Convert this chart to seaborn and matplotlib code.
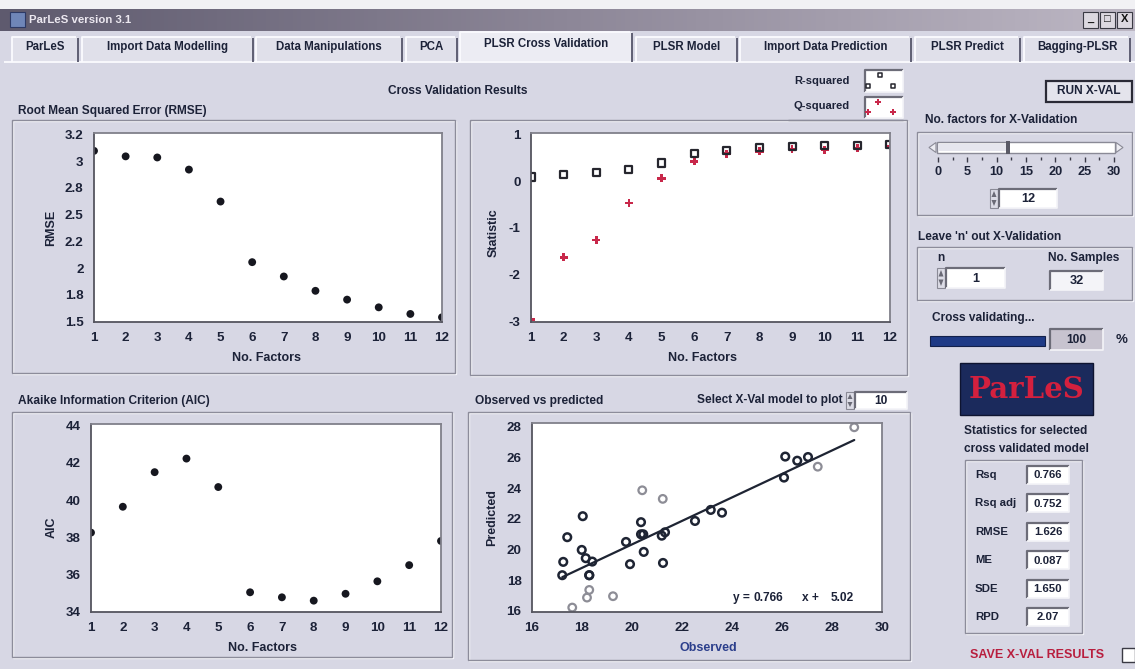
import numpy as np
import matplotlib
matplotlib.use("Agg")
import matplotlib.pyplot as plt
from matplotlib.patches import Rectangle, Polygon
from matplotlib.ticker import FixedLocator, FixedFormatter, MultipleLocator
import pandas as pd
import seaborn as sns

# ---------------- data ----------------
factors = list(range(1, 13))
rmse = [3.05, 3.00, 2.99, 2.88, 2.59, 2.04, 1.91, 1.78, 1.70, 1.63, 1.57, 1.54]
r_squared = [0.09, 0.15, 0.18, 0.26, 0.39, 0.59, 0.65, 0.72, 0.74, 0.76, 0.76, 0.79]
q_squared = [-2.96, -1.63, -1.26, -0.47, 0.06, 0.43, 0.59, 0.64, 0.69, 0.67, 0.71, 0.75]
aic = [38.25, 39.64, 41.50, 42.23, 40.70, 35.04, 34.77, 34.59, 34.96, 35.63, 36.50, 37.80]
rmse_tick_labels = ["1.5", "1.8", "2", "2.2", "2.5", "2.8", "3", "3.2"]

observed = [17.21, 17.25, 17.41, 18.03, 17.99, 18.15, 18.41, 18.29, 19.76, 19.92,
            20.36, 20.36, 20.45, 20.47, 21.19, 21.32, 21.24, 22.52, 23.15, 23.60,
            26.13, 26.08, 26.61, 27.04, 18.29]
predicted = [18.33, 19.20, 20.81, 22.18, 19.98, 19.44, 19.22, 18.33, 20.50, 19.05,
             21.79, 21.00, 21.00, 19.85, 20.91, 21.13, 19.13, 21.87, 22.59, 22.41,
             26.07, 24.70, 25.80, 26.04, 18.33]
observed_faint = [20.41, 21.23, 18.29, 18.20, 19.24, 17.61, 27.43, 28.89]
predicted_faint = [23.87, 23.31, 17.37, 16.87, 16.96, 16.22, 25.41, 27.98]
slope = 0.766
intercept = 5.02

tab_names = ["ParLeS", "Import Data Modelling", "Data Manipulations", "PCA",
             "PLSR Cross Validation", "PLSR Model", "Import Data Prediction",
             "PLSR Predict", "Bagging-PLSR"]
stat_names = ["Rsq", "Rsq adj", "RMSE", "ME", "SDE", "RPD"]
stat_values = ["0.766", "0.752", "1.626", "0.087", "1.650", "2.07"]
slider_labels = ["0", "5", "10", "15", "20", "25", "30"]
n_factors = 12
leave_n = 1
n_samples = 32
progress = 100
model_to_plot = 10

# ---------------- style ----------------
sns.set_style("white")
plt.rcParams["font.family"] = ["Liberation Sans", "DejaVu Sans"]
plt.rcParams["font.weight"] = "bold"

W, H = 1135, 669
BG = "#d7d7e4"
INK = "#1c2238"
BLUE_INK = "#2c3f8c"

fig = plt.figure(figsize=(W / 100, H / 100), dpi=100, facecolor=BG)
bg = fig.add_axes([0, 0, 1, 1])
bg.set_xlim(0, W)
bg.set_ylim(H, 0)
bg.axis("off")
bg.set_autoscale_on(False)


def rect(x0, y0, x1, y1, fc="none", ec="none", lw=1.0, z=1):
    bg.add_patch(Rectangle((x0, y0), x1 - x0, y1 - y0, facecolor=fc,
                           edgecolor=ec, linewidth=lw, zorder=z))


def line(xs, ys, c, lw=1.0, z=2):
    bg.plot(xs, ys, color=c, lw=lw, zorder=z, solid_capstyle="butt")


def txt(x, y, s, size=8.8, ha="left", color=INK, **kw):
    bg.text(x, y, s, fontsize=size, ha=ha, va="center", color=color,
            fontweight="bold", zorder=5, **kw)


def etched(x0, y0, x1, y1):
    rect(x0 + 1, y0 + 1, x1 + 1, y1 + 1, ec="#f6f6fb", lw=1.0)
    rect(x0, y0, x1, y1, ec="#8c8c9a", lw=1.0)


def field(x0, y0, x1, y1, s, fc="white", size=9):
    rect(x0, y0, x1, y1, fc=fc)
    line([x0, x0, x1], [y1, y0, y0], "#6c6c78", lw=1.6)
    line([x0, x1, x1], [y1, y1, y0], "#f4f4f8", lw=1.2)
    txt((x0 + x1) / 2, (y0 + y1) / 2 + 0.5, s, size=size, ha="center")


def spinner(x0, y0, x1, y1):
    rect(x0, y0, x1, y1, fc="#dcdce6", ec="#8a8a96", lw=0.8)
    xm = (x0 + x1) / 2
    ym = (y0 + y1) / 2
    bg.add_patch(Polygon([[x0 + 1.5, ym - 1.5], [x1 - 1.5, ym - 1.5], [xm, y0 + 2]],
                         closed=True, fc="#6a6a76", ec="none", zorder=3))
    bg.add_patch(Polygon([[x0 + 1.5, ym + 1.5], [x1 - 1.5, ym + 1.5], [xm, y1 - 2]],
                         closed=True, fc="#6a6a76", ec="none", zorder=3))


# ---------------- window chrome ----------------
rect(0, 0, W, 9, fc="#f1f1f4", z=0.5)
grad = np.linspace(0, 1, 256)[None, :]
bg.imshow(grad, extent=(0, W, 31, 9), aspect="auto", cmap=matplotlib.colors.LinearSegmentedColormap.from_list(
    "tb", ["#5e5a6e", "#8d8798", "#bdb7c4"]), zorder=0.6)
rect(10, 12, 25, 27, fc="#6f86b8", ec="#2d3a66", lw=0.8, z=1)
txt(29, 20, "ParLeS version 3.1", size=8.2, color="#ece8f0")
for i, glyph in enumerate(["_", "□", "X"]):
    bx = 1083 + i * 17
    rect(bx, 12, bx + 15, 28, fc="#dcd8e0", ec="#3a3a44", lw=0.8, z=2)
    txt(bx + 7.5, 19.5, glyph, size=8, ha="center", color="#111111")

# tab strip
tab_edges = [(12, 78), (82, 253), (256, 402), (406, 457), (460, 632), (636, 737),
             (740, 911), (915, 1020), (1024, 1130)]
line([4, W], [62, 62], "#f8f8fc", lw=1.4)
for name, (tx0, tx1) in zip(tab_names, tab_edges):
    selected = name == "PLSR Cross Validation"
    top = 32 if selected else 37
    rect(tx0, top, tx1, 62.5 if selected else 61.5, fc="#ececf3" if selected else "#e0e0ea", z=1.5)
    line([tx0, tx0, tx1 - 2], [62, top, top], "#fbfbff", lw=1.3, z=2)
    line([tx1, tx1], [top + 1, 62], "#55556a", lw=1.3, z=2)
    txt((tx0 + tx1) / 2, 47 if not selected else 44, name, size=8.3, ha="center")

# ---------------- left panels ----------------
txt(458, 91, "Cross Validation Results", size=8.6, ha="center")
txt(18, 111, "Root Mean Squared Error (RMSE)", size=8.6)
txt(18, 401, "Akaike Information Criterion (AIC)", size=8.6)
txt(475, 401, "Observed vs predicted", size=8.6)
txt(843, 400, "Select X-Val model to plot", size=8.6, ha="right")
spinner(846, 392, 854, 409)
field(855, 392, 907, 409, str(model_to_plot), size=8.6)

etched(12, 120, 455, 373)
etched(470, 120, 907, 375)
etched(12, 412, 452, 657)
etched(468, 412, 910, 660)

# legend swatches for the statistic plot
txt(850, 81, "R-squared", size=8, ha="right")
txt(850, 106, "Q-squared", size=8, ha="right")
line([788, 903], [120, 120], "#8c8c9a", lw=1.0)
field(865, 70, 903, 92, "")
field(865, 97, 903, 118, "")

# ---------------- right-hand controls ----------------
rect(1046, 81, 1132, 102, fc="#e4e4ec", ec="#2a2a36", lw=1.6, z=2)
txt(1089, 91.5, "RUN X-VAL", size=8.6, ha="center")

txt(925, 120, "No. factors for X-Validation", size=8.6)
etched(917, 132, 1132, 215)
rect(937, 142, 1115, 153, fc="white", ec="#8a8a96", lw=1.0, z=2)
rect(938, 144, 1006, 151, fc="#e6e6ee", z=2.2)
bg.add_patch(Polygon([[936, 142.5], [936, 152.5], [929, 147.5]], closed=True,
                     fc="#ececf2", ec="#8a8a96", lw=0.8, zorder=2))
bg.add_patch(Polygon([[1116, 142.5], [1116, 152.5], [1123, 147.5]], closed=True,
                     fc="#ececf2", ec="#8a8a96", lw=0.8, zorder=2))
s0, s1 = 938, 1114
thumb_x = s0 + (s1 - s0) * n_factors / 30
rect(thumb_x - 2, 141, thumb_x + 2, 154, fc="#5a5a66", z=3)
for k in range(13):
    tx = s0 + (s1 - s0) * k / 12
    line([tx, tx], [157, 162 if k % 2 == 0 else 160], "#3a3a48", lw=1.0)
for k, lab in enumerate(slider_labels):
    txt(s0 + (s1 - s0) * k / 6, 172, lab, size=9.2, ha="center")
spinner(990, 189, 998, 208)
field(999, 189, 1057, 208, str(n_factors), size=9.2)

txt(918, 237, "Leave 'n' out X-Validation", size=8.6)
etched(917, 247, 1132, 300)
txt(937, 258, "n", size=8.6)
spinner(937, 268, 945, 288)
field(946, 268, 1005, 288, str(leave_n), size=9.2)
txt(1048, 258, "No. Samples", size=8.6, color=INK)
field(1050, 271, 1103, 290, str(n_samples), size=9.2, fc="#f4f4f8")

txt(932, 318, "Cross validating...", size=8.6)
rect(930, 336, 930 + 115 * progress / 100, 346, fc="#1e3a86", ec="#12204a", lw=0.8, z=2)
field(1050, 329, 1103, 350, str(progress), fc="#c7c3cf", size=8.6)
txt(1116, 340, "%", size=9.5)

rect(960, 363, 1093, 415, fc="#1b2a5c", ec="#0e1430", lw=1.0, z=2)
txt(1026, 389, "ParLeS", size=21, ha="center", color="#d4203e", family="DejaVu Serif")

txt(1026, 431, "Statistics for selected", size=8.6, ha="center")
txt(1026, 449, "cross validated model", size=8.6, ha="center")
etched(965, 460, 1082, 633)
for i, (nm, val) in enumerate(zip(stat_names, stat_values)):
    yc = 475 + i * 28.4
    txt(975, yc, nm, size=8.2)
    field(1027, yc - 9, 1069, yc + 9, val, size=8.2)

txt(970, 655, "SAVE X-VAL RESULTS", size=9, color="#b81e3e")
rect(1122, 648, 1135, 662, fc="white", ec="#3a3a44", lw=1.0, z=2)


# ---------------- data axes ----------------
def data_axes(box):
    x0, y0, x1, y1 = box
    ax = fig.add_axes([x0 / W, 1 - y1 / H, (x1 - x0) / W, (y1 - y0) / H])
    ax.set_facecolor("white")
    for sp in ax.spines.values():
        sp.set_color("#80808a")
        sp.set_linewidth(1.3)
        sp.set_visible(True)
    ax.spines["left"].set_color("#55555f")
    ax.spines["bottom"].set_color("#55555f")
    ax.tick_params(axis="both", which="major", direction="out", length=6, width=1.0,
                   color="#3a3a46", labelsize=9.6, labelcolor=INK, pad=1.5)
    ax.tick_params(axis="both", which="minor", direction="out", length=3, width=0.8,
                   color="#3a3a46")
    return ax


def place_labels(ax, box, xl, xpos, yl, ypos, xcolor=INK):
    x0, y0, x1, y1 = box
    ax.set_xlabel(xl, fontsize=9, fontweight="bold", color=xcolor)
    ax.set_ylabel(yl, fontsize=9, fontweight="bold", color=INK)
    ax.xaxis.label.set_va("center")
    ax.yaxis.label.set_va("center")
    ax.xaxis.set_label_coords((xpos[0] - x0) / (x1 - x0), (y1 - xpos[1]) / (y1 - y0))
    ax.yaxis.set_label_coords((ypos[0] - x0) / (x1 - x0), (y1 - ypos[1]) / (y1 - y0))


def factor_axis(ax):
    ax.set_xlim(1, 12)
    ax.set_xticks(factors)
    ax.set_xticklabels([str(f) for f in factors])


DOT = "#16171f"

# RMSE
box1 = (94, 133, 442, 322)
ax1 = data_axes(box1)
sns.scatterplot(x=factors, y=rmse, ax=ax1, color=DOT, s=32, edgecolor="none", clip_on=True)
factor_axis(ax1)
ax1.set_ylim(1.497, 3.212)
ax1.yaxis.set_major_locator(FixedLocator(np.linspace(1.5, 3.2, len(rmse_tick_labels))))
ax1.yaxis.set_major_formatter(FixedFormatter(rmse_tick_labels))
place_labels(ax1, box1, "No. Factors", (267, 358), "RMSE", (51, 228))

# R-squared / Q-squared
box2 = (531, 133, 890, 322)
ax2 = data_axes(box2)
sns.scatterplot(x=factors, y=q_squared, ax=ax2, color="#c8284a", marker="P", s=34,
                edgecolor="none", clip_on=True)
sns.scatterplot(x=factors, y=r_squared, ax=ax2, marker="s", s=26, facecolor="none",
                edgecolor="#26262e", linewidth=1.6, clip_on=True)
factor_axis(ax2)
ax2.set_ylim(-3.02, 1.034)
ax2.set_yticks([-3, -2, -1, 0, 1])
ax2.set_yticklabels(["-3", "-2", "-1", "0", "1"])
place_labels(ax2, box2, "No. Factors", (703, 358), "Statistic", (494, 233))

# legend swatch markers
bg.scatter([880, 868, 893], [75, 86, 86], marker="s", s=12, facecolor="none",
           edgecolor="#26262e", linewidth=1.1, zorder=6)
bg.scatter([878, 868, 893], [102, 112, 112], marker="P", s=18, color="#c8284a",
           edgecolor="none", zorder=6)

# AIC
box3 = (91, 424, 441, 612)
ax3 = data_axes(box3)
sns.scatterplot(x=factors, y=aic, ax=ax3, color=DOT, s=32, edgecolor="none", clip_on=True)
factor_axis(ax3)
ax3.set_ylim(33.98, 44.09)
ax3.set_yticks([34, 36, 38, 40, 42, 44])
ax3.set_yticklabels(["34", "36", "38", "40", "42", "44"])
place_labels(ax3, box3, "No. Factors", (262, 648), "AIC", (52, 527))

# Observed vs predicted
box4 = (532, 423, 882, 612)
ax4 = data_axes(box4)
sns.scatterplot(x=observed_faint, y=predicted_faint, ax=ax4, marker="o", s=30,
                facecolor="none", edgecolor="#8d8d96", linewidth=1.6)
sns.scatterplot(x=observed, y=predicted, ax=ax4, marker="o", s=30,
                facecolor="none", edgecolor="#1e2433", linewidth=1.8)
all_obs = observed + observed_faint
fit = pd.DataFrame({"x": [min(all_obs), max(all_obs)]})
fit["y"] = slope * fit["x"] + intercept
sns.lineplot(data=fit, x="x", y="y", ax=ax4, color="#1e2433", linewidth=1.6)
ax4.set_xlim(16, 30)
ax4.set_ylim(15.93, 28.26)
ax4.set_xticks(np.arange(16, 31, 2))
ax4.set_xticklabels([str(v) for v in range(16, 31, 2)])
ax4.set_yticks(np.arange(16, 29, 2))
ax4.set_yticklabels([str(v) for v in range(16, 29, 2)])
ax4.xaxis.set_minor_locator(MultipleLocator(0.2))
ax4.yaxis.set_minor_locator(MultipleLocator(1 / 3))

# regression equation, in pieces like the fixed-width readout
def eq_text(px, s, ha):
    ax4.text((px - box4[0]) / (box4[2] - box4[0]), (box4[3] - 598) / (box4[3] - box4[1]), s,
             transform=ax4.transAxes, fontsize=8.6, fontweight="bold", color=INK,
             ha=ha, va="center")

eq_text(733, "y =", "left")
eq_text(783, f"{slope:.3f}", "right")
eq_text(802, "x +", "left")
eq_text(854, f"{intercept:.2f}", "right")
place_labels(ax4, box4, "Observed", (708, 648), "Predicted", (492, 518), xcolor=BLUE_INK)

fig.savefig("out.png", dpi=100, facecolor=BG)
